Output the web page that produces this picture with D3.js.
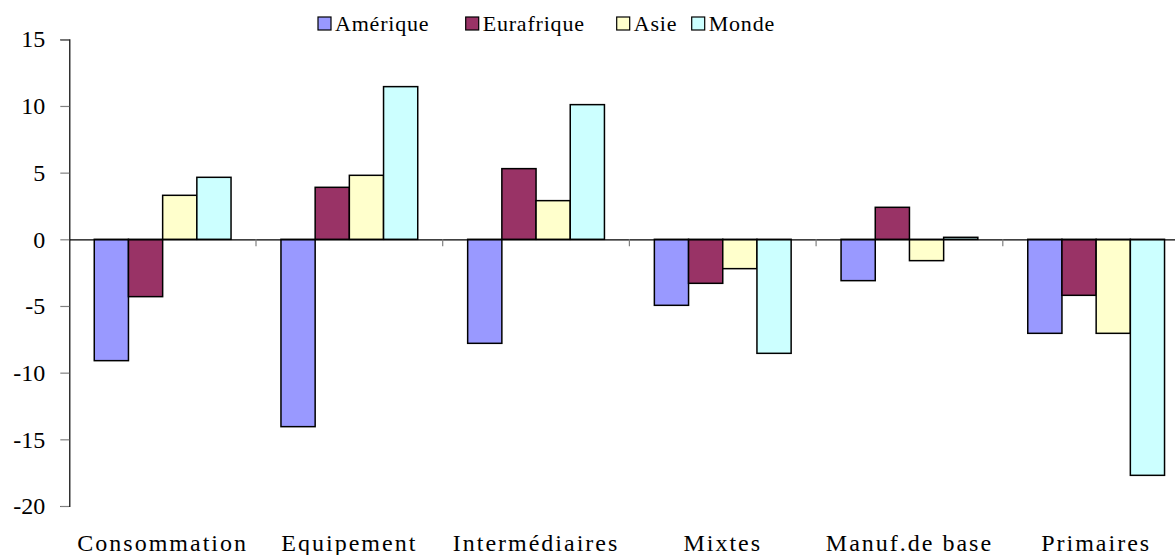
<!DOCTYPE html>
<html>
<head>
<meta charset="utf-8">
<script src="https://cdn.jsdelivr.net/npm/d3@7"></script>
<style>
  html, body { margin: 0; padding: 0; background: #fff; }
  text { font-family: 'Liberation Serif', 'DejaVu Serif', serif; }
</style>
</head>
<body>
<svg id="chart" width="1175" height="555"></svg>
<script>
const categories = ["Consommation", "Equipement", "Intermédiaires", "Mixtes", "Manuf.de base", "Primaires"];
const seriesNames = ["Amérique", "Eurafrique", "Asie", "Monde"];
const amerique   = [-9.1, -14.05, -7.8, -4.95, -3.1, -7.05];
const eurafrique = [-4.3, 3.9, 5.3, -3.3, 2.4, -4.2];
const asie       = [3.3, 4.8, 2.9, -2.2, -1.6, -7.05];
const monde      = [4.65, 11.45, 10.1, -8.55, 0.15, -17.7];
const yTicks = [15, 10, 5, 0, -5, -10, -15, -20];
const colors = ["#9999FF", "#993366", "#FFFFCC", "#CCFFFF"];

const FONT = "'Liberation Serif', 'DejaVu Serif', serif";
const seriesValues = [amerique, eurafrique, asie, monde];
const svg = d3.select("#chart");

const x0 = d3.scaleBand().domain(categories).range([69.3, 1189.5]).paddingInner(0).paddingOuter(0);
const x1 = d3.scaleBand().domain(seriesNames).range([0, x0.bandwidth()]).paddingInner(0).paddingOuter(0.73);
const y = d3.scaleLinear().domain([-20, 15]).range([506, 39.3]);

// Y axis
const yAxis = d3.axisLeft(y).tickValues(yTicks).tickSize(9).tickPadding(15).tickFormat(d => String(d));
const gy = svg.append("g").attr("transform", "translate(69.3,0)").call(yAxis);
gy.attr("font-family", FONT).attr("font-size", 24);
gy.select(".domain").attr("stroke", "#000").attr("stroke-width", 1.2);
gy.selectAll(".tick line").attr("stroke", "#808080").attr("stroke-width", 1.2);
gy.selectAll(".tick text").style("font-family", FONT).style("font-size", "24px").attr("fill", "#000");

// Bars
const data = [];
categories.forEach((c, i) => {
  seriesNames.forEach((s, j) => data.push({cat: c, series: s, value: seriesValues[j][i], color: colors[j]}));
});

svg.append("g").selectAll("rect").data(data).join("rect")
  .attr("x", d => x0(d.cat) + x1(d.series))
  .attr("width", x1.bandwidth())
  .attr("y", d => y(Math.max(0, d.value)))
  .attr("height", d => Math.abs(y(d.value) - y(0)))
  .attr("fill", d => d.color)
  .attr("stroke", "#000")
  .attr("stroke-width", 1.5);

// Zero line with category ticks
const xAxis = d3.axisBottom(x0).tickSize(0).tickFormat("");
const gx = svg.append("g").attr("transform", `translate(0,${y(0)})`).call(xAxis);
gx.select(".domain").attr("stroke", "#000").attr("stroke-width", 1.2);
gx.selectAll(".tick").remove();
svg.append("g").selectAll("line").data(categories.slice(1)).join("line")
  .attr("x1", d => x0(d)).attr("x2", d => x0(d))
  .attr("y1", y(0)).attr("y2", y(0) + 7)
  .attr("stroke", "#808080").attr("stroke-width", 1.2);

// Category labels
svg.append("g").selectAll("text").data(categories).join("text")
  .attr("x", d => x0(d) + x0.bandwidth() / 2)
  .attr("y", 551)
  .attr("text-anchor", "middle")
  .style("font-family", FONT)
  .style("font-size", "24px")
  .attr("letter-spacing", 2)
  .attr("fill", "#000")
  .text(d => d);

// Legend
const legendX = [318, 465.7, 616.7, 691.7];
const lg = svg.append("g").selectAll("g").data(seriesNames).join("g")
  .attr("transform", (d, i) => `translate(${legendX[i]},17)`);
lg.append("rect").attr("width", 13).attr("height", 13)
  .attr("fill", (d, i) => colors[i]).attr("stroke", "#000").attr("stroke-width", 1.2);
lg.append("text").attr("x", 17).attr("y", 13.5)
  .style("font-family", FONT)
  .style("font-size", "22px")
  .attr("letter-spacing", 0.8).attr("fill", "#000")
  .text(d => d);
</script>
</body>
</html>
